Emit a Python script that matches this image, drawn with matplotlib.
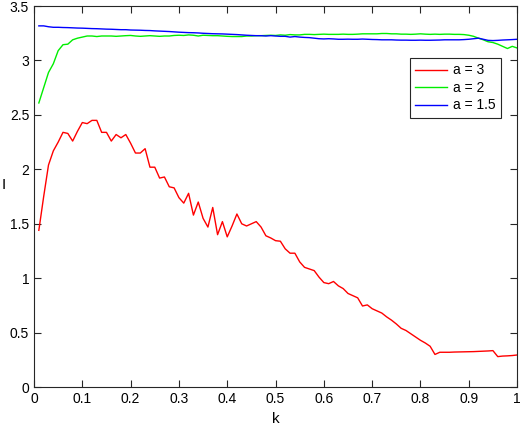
import matplotlib
matplotlib.use("Agg")
import matplotlib.pyplot as plt
from matplotlib.ticker import FormatStrFormatter
import numpy as np

plt.rcParams['font.family'] = ['Liberation Sans', 'DejaVu Sans']

# k sampled at 0.01 .. 1.00
k = np.linspace(0.01, 1.0, 100)

# a = 3
red = [1.44, 1.75, 2.04, 2.17, 2.25, 2.34, 2.33, 2.26, 2.35, 2.43,
       2.42, 2.45, 2.45, 2.34, 2.34, 2.26, 2.32, 2.29, 2.32, 2.24,
       2.15, 2.15, 2.19, 2.02, 2.02, 1.92, 1.93, 1.84, 1.83, 1.74,
       1.69, 1.78, 1.58, 1.70, 1.55, 1.47, 1.65, 1.40, 1.52, 1.38,
       1.48, 1.59, 1.50, 1.48, 1.50, 1.52, 1.47, 1.39, 1.37, 1.345,
       1.34, 1.27, 1.23, 1.23, 1.15, 1.10, 1.085, 1.07, 1.01, 0.96,
       0.95, 0.97, 0.93, 0.905, 0.86, 0.84, 0.82, 0.745, 0.755, 0.72,
       0.70, 0.68, 0.645, 0.615, 0.58, 0.54, 0.52, 0.49, 0.46, 0.43,
       0.405, 0.375, 0.30, 0.32, 0.32, 0.32, 0.322, 0.323, 0.324, 0.325,
       0.326, 0.328, 0.33, 0.332, 0.335, 0.28, 0.285, 0.287, 0.29, 0.295]

# a = 2
green = [2.61, 2.75, 2.89, 2.97, 3.09, 3.145, 3.15, 3.19, 3.205, 3.215,
         3.225, 3.225, 3.22, 3.225, 3.225, 3.225, 3.222, 3.225, 3.228, 3.23,
         3.225, 3.222, 3.225, 3.228, 3.225, 3.222, 3.225, 3.225, 3.23, 3.232,
         3.23, 3.235, 3.232, 3.225, 3.232, 3.23, 3.228, 3.228, 3.225, 3.222,
         3.22, 3.22, 3.22, 3.225, 3.225, 3.228, 3.228, 3.23, 3.232, 3.23,
         3.235, 3.232, 3.238, 3.235, 3.235, 3.24, 3.24, 3.238, 3.24, 3.242,
         3.24, 3.24, 3.24, 3.242, 3.24, 3.24, 3.242, 3.245, 3.245, 3.245,
         3.245, 3.248, 3.248, 3.245, 3.245, 3.242, 3.242, 3.24, 3.242, 3.245,
         3.242, 3.24, 3.242, 3.24, 3.242, 3.242, 3.24, 3.24, 3.238, 3.232,
         3.222, 3.205, 3.19, 3.172, 3.165, 3.15, 3.13, 3.11, 3.13, 3.115]

# a = 1.5
blue = [3.318, 3.318, 3.31, 3.305, 3.305, 3.303, 3.302, 3.30, 3.298, 3.297,
        3.295, 3.293, 3.292, 3.29, 3.288, 3.287, 3.285, 3.283, 3.283, 3.28,
        3.279, 3.278, 3.276, 3.275, 3.272, 3.27, 3.268, 3.266, 3.263, 3.26,
        3.258, 3.256, 3.255, 3.253, 3.25, 3.248, 3.246, 3.245, 3.244, 3.242,
        3.24, 3.238, 3.235, 3.232, 3.23, 3.228, 3.228, 3.225, 3.228, 3.225,
        3.222, 3.222, 3.215, 3.22, 3.215, 3.212, 3.21, 3.205, 3.20, 3.198,
        3.20, 3.198, 3.195, 3.195, 3.196, 3.195, 3.195, 3.197, 3.195, 3.193,
        3.192, 3.19, 3.19, 3.19, 3.188, 3.187, 3.187, 3.186, 3.186, 3.187,
        3.186, 3.186, 3.187, 3.188, 3.19, 3.19, 3.19, 3.19, 3.192, 3.195,
        3.20, 3.205, 3.195, 3.185, 3.183, 3.185, 3.188, 3.19, 3.192, 3.195]

labels = ['a = 3', 'a = 2', 'a = 1.5']
colors = ['#ff0000', '#00ee00', '#0000ff']

fig = plt.figure(figsize=(5.2, 4.33), dpi=100)
ax = fig.add_axes((0.0654, 0.106, 0.929, 0.88))

for ys, lab, c in zip([red, green, blue], labels, colors):
    ax.plot(k, ys, color=c, linewidth=1.0, label=lab)

ax.set(xlim=(0, 1), xticks=np.arange(0, 1.01, 0.1),
       ylim=(0, 3.5), yticks=np.arange(0, 3.51, 0.5))
ax.xaxis.set_major_formatter(FormatStrFormatter('%g'))
ax.yaxis.set_major_formatter(FormatStrFormatter('%g'))
ax.tick_params(direction='in', length=5, width=0.8, top=True, right=True,
               labelsize=10, colors='#262626', labelcolor='black')
for sp in ax.spines.values():
    sp.set_color('#262626')
    sp.set_linewidth(0.8)

ax.set_xlabel('k', fontsize=11, labelpad=4)
# upright "I" label, hugging the left edge like the original
ax.set_ylabel('I', fontsize=11, rotation=0, ha='center', va='center')
ax.yaxis.set_label_coords(-0.063, 0.53)

leg = ax.legend(loc='upper left', bbox_to_anchor=(0.778, 0.864), fontsize=10,
                fancybox=False, framealpha=1, edgecolor='#262626',
                handlelength=2.3, handletextpad=0.4, borderpad=0.4,
                labelspacing=0.25, borderaxespad=0)
leg.get_frame().set_linewidth(0.8)

plt.savefig("out.png", dpi=100)
